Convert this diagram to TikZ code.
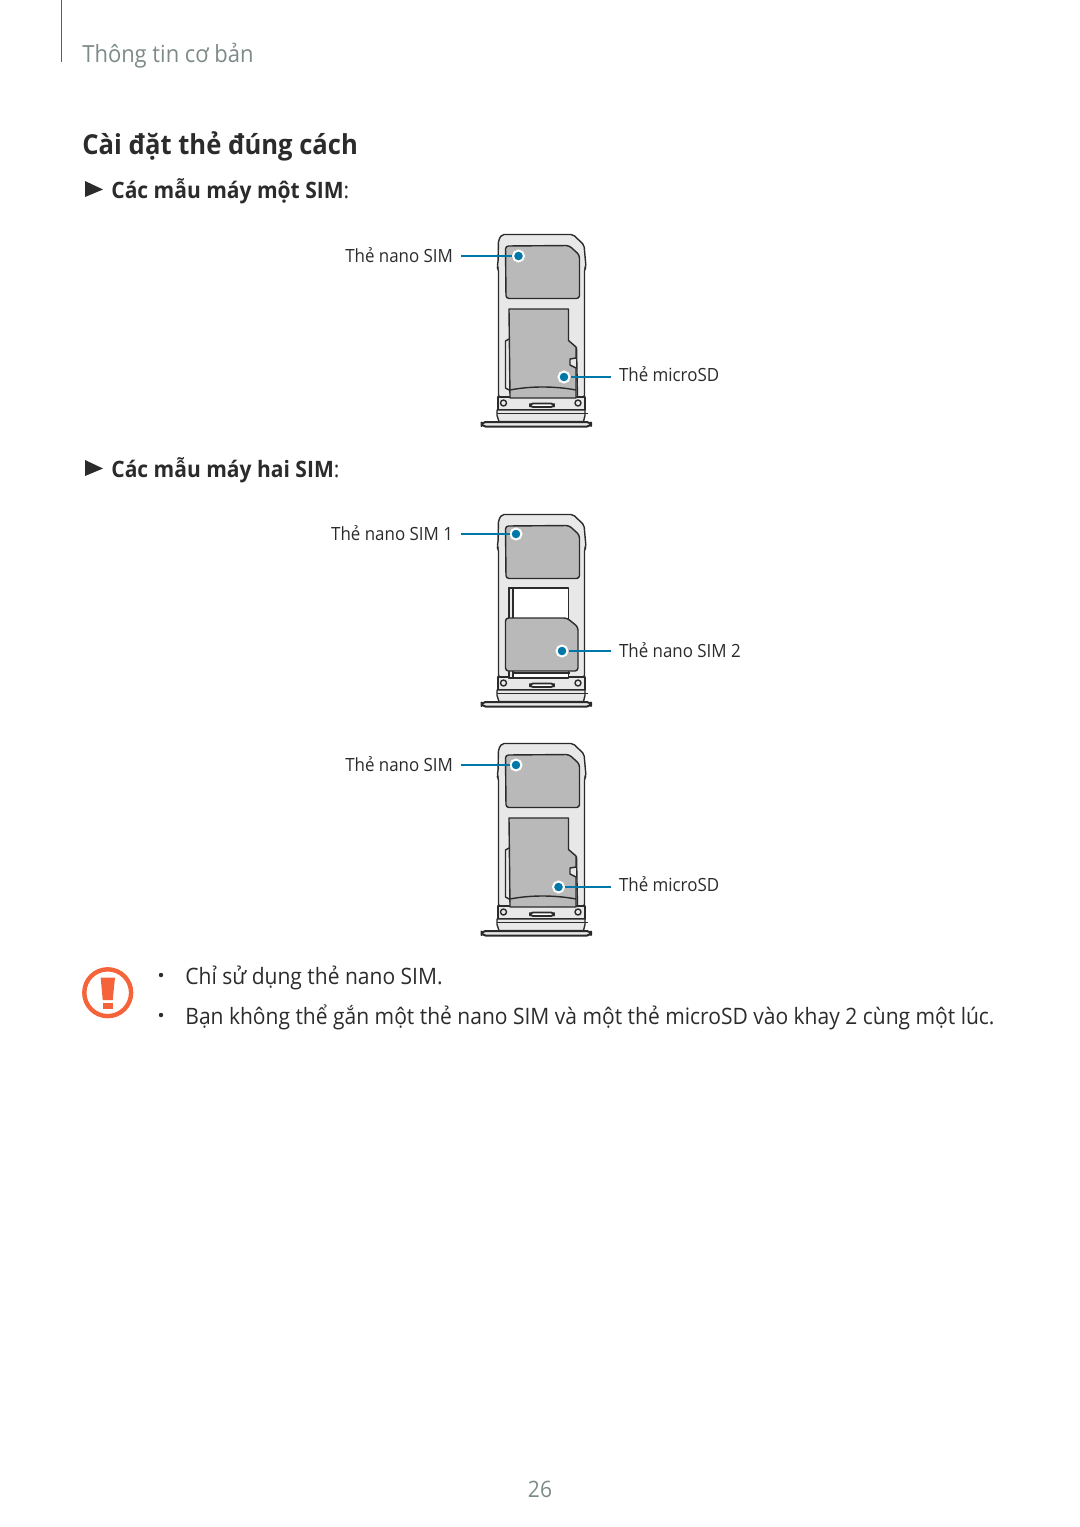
\documentclass[tikz,border=0pt]{standalone}
\usepackage{fontspec}
\setmainfont{Open Sans}[FakeStretch=0.93]
\usepackage{xcolor}
\definecolor{traygrey}{HTML}{E8E8E8}
\definecolor{cardgrey}{HTML}{B9B9B9}
\definecolor{inkdark}{HTML}{2B2B2B}
\definecolor{leaderblue}{HTML}{0077A9}
\definecolor{warnorange}{HTML}{F4633A}
\definecolor{headgrey}{HTML}{7C8A88}
\tikzset{
  trayline/.style={draw=inkdark,line width=0.7pt,line join=round},
  cardshape/.style={trayline,fill=cardgrey},
  leader/.style={draw=leaderblue,line width=0.8pt},
  dot/.style={circle,fill=leaderblue,draw=white,line width=1pt,minimum size=5.5pt,inner sep=0pt},
  partlabel/.style={font=\fontsize{9.1}{11}\selectfont,text=inkdark,inner sep=0pt,outer sep=4pt},
  subhead/.style={font=\bfseries\fontsize{11.3}{14}\selectfont,text=inkdark,inner sep=0pt},
  bodytext/.style={font=\fontsize{11.3}{14}\selectfont,text=inkdark,inner sep=0pt},
}
% tray frame, its lower end and the nano card in the upper seat
\newcommand{\trayframe}{
  \draw[trayline,fill=traygrey,rounded corners=1pt] (38.5,172) -- (38.5,44) -- (37,42) -- (38,38) -- (38.5,15) -- (42,9.5)
    -- (113,9.5) -- (124,20) -- (126,42) -- (124.5,44) -- (124.5,172) -- cycle;
  \draw[trayline,fill=traygrey] (38,172) rectangle (125,185);
  \draw[trayline] (43.5,178) circle (3);
  \draw[trayline] (118,178) circle (3);
  \draw[trayline,fill=white,line width=0.9pt,rounded corners=1.5pt] (70,178.5) rectangle (94,182);
  \draw[trayline,fill=traygrey] (37,185) -- (125,185) -- (125,190.5) -- (123.5,196.5) -- (39,196.5) -- (37,190.5) -- cycle;
  \draw[trayline] (36.5,188.5) -- (127.5,188.5);
  \draw[trayline,fill=traygrey,line width=1pt,rounded corners=2pt] (21.5,197) rectangle (131,201.5);
  \draw[cardshape,rounded corners=1.5pt] (45.5,21) -- (109,20.5) -- (119.5,30) -- (119.5,73.5) -- (46,73.5) -- cycle;
}
% micro card seated in the lower part of the tray
\newcommand{\microcard}{
  \draw[trayline] (49,114) -- (45.5,116) -- (45.5,163) -- (49,165);
  \draw[trayline] (116.5,122) -- (117.5,172);
  \draw[cardshape] (49,84) -- (108.5,84) -- (108.5,115.5) -- (116,122) -- (116,133) -- (110,134) -- (110,140) -- (116,143)
    -- (116,173) -- (50,173) -- cycle;
  \draw[trayline] (50,165) .. controls (70,161) and (95,161) .. (116,165);
}
% second nano card below an open white seat
\newcommand{\nanoseat}{
  \draw[trayline,fill=white] (49,83) rectangle (108.5,173);
  \draw[trayline,fill=traygrey] (49,83) rectangle (53,173);
  \draw[trayline] (53,168) -- (110,168);
  \draw[cardshape,rounded corners=1.5pt] (45.5,113) -- (107,113) -- (118,122) -- (118,166) -- (45.5,166) -- cycle;
}
\begin{document}
\begin{tikzpicture}[x=0.5pt,y=-0.5pt]
\useasboundingbox (0,0) rectangle (1080,1527);
% page head
\draw[headgrey!70!black,line width=0.5pt] (61,0) -- (61,62);
\node[anchor=base west,inner sep=0pt,text=headgrey,font=\fontsize{11.8}{14}\selectfont] (chapter) at (82,62) {Thông tin cơ bản};
\node[anchor=base west,inner sep=0pt,text=inkdark,font=\bfseries\fontsize{13.75}{17}\selectfont] (title) at (82,154) {Cài đặt thẻ đúng cách};
% single SIM
\fill[inkdark] (85,181) -- (103,189.5) -- (85,197) -- cycle;
\node[subhead,anchor=base west] (single) at (111,198) {Các mẫu máy một SIM\textmd{:}};
\begin{scope}[shift={(460,225)}]
\trayframe
\microcard
\end{scope}
\node[partlabel,anchor=base east] (nanoA) at (461,262) {Thẻ nano SIM};
\node[dot] (dotnanoA) at (518.5,256) {};
\draw[leader] (dotnanoA) -- (dotnanoA -| nanoA.east);
\node[partlabel,anchor=base west] (microA) at (611,381) {Thẻ microSD};
\node[dot] (dotmicroA) at (564,377) {};
\draw[leader] (dotmicroA) -- (dotmicroA -| microA.west);
% dual SIM
\fill[inkdark] (85,460) -- (103,468.5) -- (85,476) -- cycle;
\node[subhead,anchor=base west] (dual) at (111,477) {Các mẫu máy hai SIM\textmd{:}};
\begin{scope}[shift={(460,505)}]
\trayframe
\nanoseat
\end{scope}
\node[partlabel,anchor=base east] (nanoB) at (461,540) {Thẻ nano SIM 1};
\node[dot] (dotnanoB) at (516,534) {};
\draw[leader] (dotnanoB) -- (dotnanoB -| nanoB.east);
\node[partlabel,anchor=base west] (nanoC) at (611,657) {Thẻ nano SIM 2};
\node[dot] (dotnanoC) at (562,651) {};
\draw[leader] (dotnanoC) -- (dotnanoC -| nanoC.west);
\begin{scope}[shift={(460,734)}]
\trayframe
\microcard
\end{scope}
\node[partlabel,anchor=base east] (nanoD) at (461,771) {Thẻ nano SIM};
\node[dot] (dotnanoD) at (516,765) {};
\draw[leader] (dotnanoD) -- (dotnanoD -| nanoD.east);
\node[partlabel,anchor=base west] (microD) at (611,891) {Thẻ microSD};
\node[dot] (dotmicroD) at (558.5,887) {};
\draw[leader] (dotmicroD) -- (dotmicroD -| microD.west);
% warning sign and notes
\draw[warnorange,line width=2.2pt] (107.7,992.7) circle (23.4);
\fill[warnorange] (100.7,977.7) -- (115,977.7) -- (112.7,1000) -- (102.7,1000) -- cycle;
\fill[warnorange] (102.7,1002.7) rectangle (113,1009);
\fill[inkdark] (161,975) circle (2.2);
\fill[inkdark] (161,1015) circle (2.2);
\node[bodytext,anchor=base west] (noteA) at (185,984) {Chỉ sử dụng thẻ nano SIM.};
\node[bodytext,anchor=base west] (noteB) at (185,1024) {Bạn không thể gắn một thẻ nano SIM và một thẻ microSD vào khay 2 cùng một lúc.};
\node[anchor=base,inner sep=0pt,text=headgrey,font=\fontsize{11.3}{14}\selectfont] (pagenum) at (540,1497) {26};
\end{tikzpicture}
\end{document}
